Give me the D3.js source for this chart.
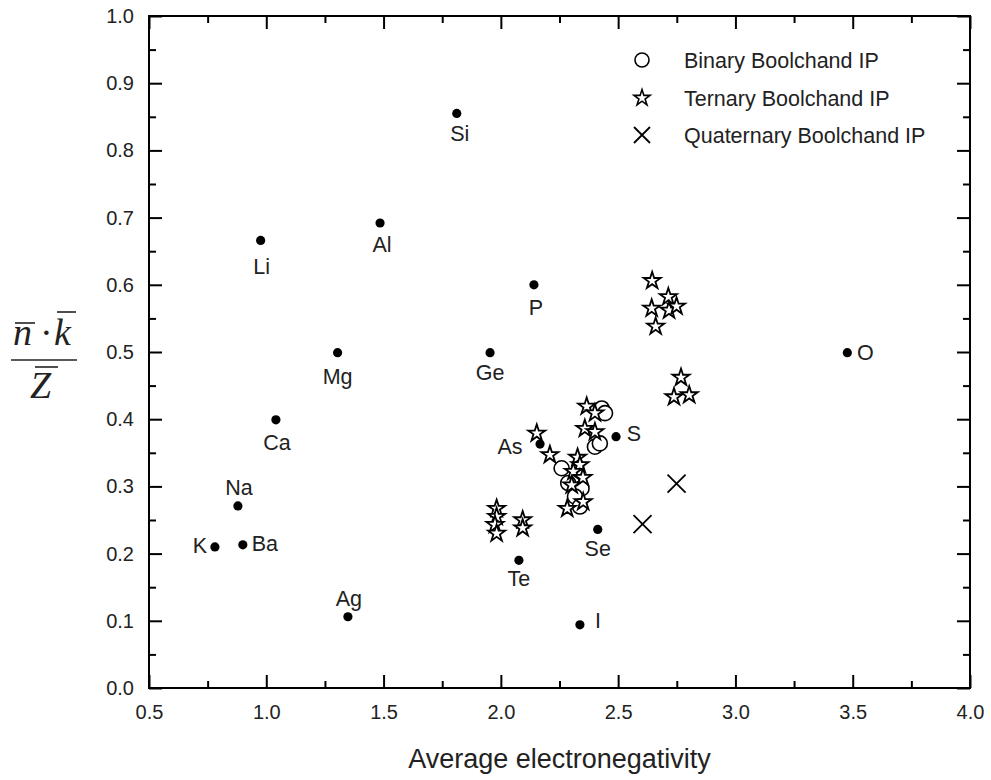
<!DOCTYPE html>
<html>
<head>
<meta charset="utf-8">
<script src="https://cdn.jsdelivr.net/npm/d3@7"></script>
<style>
  body { margin: 0; background: #fff; }
  svg { display: block; }
  text { font-family: "Liberation Sans", Arial, sans-serif; fill: #222; }
</style>
</head>
<body>
<svg></svg>
<script>
// tick labels
const X_TICKS = [0.5, 1.0, 1.5, 2.0, 2.5, 3.0, 3.5, 4.0];
const Y_TICKS = [0.0, 0.1, 0.2, 0.3, 0.4, 0.5, 0.6, 0.7, 0.8, 0.9, 1.0];

// single elements (filled dots)
const elementNames = ["Li", "Na", "K", "Ba", "Ca", "Mg", "Ag", "Al", "Si", "Ge", "P", "As", "Te", "I", "Se", "S", "O"];
const elementEN    = [0.976, 0.879, 0.781, 0.900, 1.041, 1.304, 1.348, 1.485, 1.812, 1.954, 2.141, 2.167, 2.077, 2.337, 2.413, 2.491, 3.477];
const elementRatio = [0.666, 0.271, 0.210, 0.213, 0.399, 0.499, 0.106, 0.692, 0.855, 0.499, 0.600, 0.363, 0.190, 0.094, 0.236, 0.374, 0.499];

// binary Boolchand IP (circles)
const binaryEN    = [2.430, 2.444, 2.401, 2.422, 2.259, 2.287, 2.344, 2.316, 2.337];
const binaryRatio = [0.416, 0.409, 0.359, 0.364, 0.327, 0.305, 0.297, 0.285, 0.270];

// ternary Boolchand IP (stars)
const ternaryEN    = [2.153, 2.209, 2.366, 2.401, 2.358, 2.401, 2.327, 2.337, 2.309, 2.350, 2.302, 2.351, 2.283,
                      1.982, 1.982, 1.975, 1.982, 2.093, 2.093,
                      2.645, 2.714, 2.643, 2.717, 2.749, 2.660, 2.768, 2.738, 2.803];
const ternaryRatio = [0.379, 0.347, 0.419, 0.409, 0.386, 0.381, 0.343, 0.332, 0.322, 0.313, 0.302, 0.277, 0.267,
                      0.267, 0.255, 0.243, 0.230, 0.250, 0.238,
                      0.606, 0.582, 0.565, 0.562, 0.568, 0.538, 0.462, 0.433, 0.436];

// quaternary Boolchand IP (crosses)
const quatEN    = [2.604, 2.749];
const quatRatio = [0.244, 0.304];

const LEGEND = ["Binary Boolchand IP", "Ternary Boolchand IP", "Quaternary Boolchand IP"];

// where each element label sits relative to its dot (px)
const LABEL_NUDGE = {
  Li: [1, 26], Na: [1, -19], K: [-15, -2], Ba: [22, -2], Ca: [1, 22], Mg: [0, 24],
  Ag: [1, -19], Al: [2, 21], Si: [3, 20], Ge: [0, 20], P: [2, 22], As: [-30, 2],
  Te: [0, 18], I: [18, -5], Se: [0, 19], S: [18, -3], O: [18, 0]
};

const WIDTH = 991, HEIGHT = 780;
const PLOT = {left: 149, right: 970, top: 16, bottom: 688};

const svg = d3.select('svg').attr('width', WIDTH).attr('height', HEIGHT);

const xScale = d3.scaleLinear().domain([0.5, 4.0]).range([PLOT.left, PLOT.right]);
const yScale = d3.scaleLinear().domain([0, 1]).range([PLOT.bottom, PLOT.top]);

const xMinor = d3.pairs(X_TICKS).map(p => (p[0] + p[1]) / 2);
const yMinor = d3.pairs(Y_TICKS).map(p => (p[0] + p[1]) / 2);

function styleAxis(g) {
  g.select('.domain').remove();
  g.selectAll('line').attr('stroke', '#000').attr('stroke-width', 2);
  g.selectAll('text').style('font-size', '20px').attr('fill', '#333');
}

//bottom axis
svg.append('g').attr('transform', `translate(0,${PLOT.bottom})`)
  .call(d3.axisBottom(xScale).tickValues(X_TICKS).tickFormat(d3.format('.1f')).tickSizeInner(-13).tickSizeOuter(0).tickPadding(17))
  .call(styleAxis);
svg.append('g').attr('transform', `translate(0,${PLOT.bottom})`)
  .call(d3.axisBottom(xScale).tickValues(xMinor).tickFormat('').tickSizeInner(-7).tickSizeOuter(0))
  .call(styleAxis);
//top axis
svg.append('g').attr('transform', `translate(0,${PLOT.top})`)
  .call(d3.axisTop(xScale).tickValues(X_TICKS).tickFormat('').tickSizeInner(-13).tickSizeOuter(0))
  .call(styleAxis);
svg.append('g').attr('transform', `translate(0,${PLOT.top})`)
  .call(d3.axisTop(xScale).tickValues(xMinor).tickFormat('').tickSizeInner(-7).tickSizeOuter(0))
  .call(styleAxis);
//left axis
svg.append('g').attr('transform', `translate(${PLOT.left},0)`)
  .call(d3.axisLeft(yScale).tickValues(Y_TICKS).tickFormat(d3.format('.1f')).tickSizeInner(-13).tickSizeOuter(0).tickPadding(15))
  .call(styleAxis);
svg.append('g').attr('transform', `translate(${PLOT.left},0)`)
  .call(d3.axisLeft(yScale).tickValues(yMinor).tickFormat('').tickSizeInner(-7).tickSizeOuter(0))
  .call(styleAxis);
//right axis
svg.append('g').attr('transform', `translate(${PLOT.right},0)`)
  .call(d3.axisRight(yScale).tickValues(Y_TICKS).tickFormat('').tickSizeInner(-13).tickSizeOuter(0))
  .call(styleAxis);
svg.append('g').attr('transform', `translate(${PLOT.right},0)`)
  .call(d3.axisRight(yScale).tickValues(yMinor).tickFormat('').tickSizeInner(-7).tickSizeOuter(0))
  .call(styleAxis);

//frame
svg.append('rect')
  .attr('x', PLOT.left).attr('y', PLOT.top)
  .attr('width', PLOT.right - PLOT.left).attr('height', PLOT.bottom - PLOT.top)
  .attr('fill', 'none').attr('stroke', '#000').attr('stroke-width', 2);

const chart = svg.append('g');

//element dots + labels
const elements = elementNames.map((n, i) => ({name: n, x: elementEN[i], y: elementRatio[i]}));
chart.selectAll('.dot')
  .data(elements)
  .enter()
  .append('circle')
  .attr('cx', d => xScale(d.x))
  .attr('cy', d => yScale(d.y))
  .attr('r', 4.6)
  .attr('fill', '#000');

chart.selectAll('.elabel')
  .data(elements)
  .enter()
  .append('text')
  .text(d => d.name)
  .attr('x', d => xScale(d.x) + LABEL_NUDGE[d.name][0])
  .attr('y', d => yScale(d.y) + LABEL_NUDGE[d.name][1])
  .attr('dy', '0.36em')
  .attr('text-anchor', 'middle')
  .style('font-size', '21.5px');

//binary circles
const binary = binaryEN.map((v, i) => ({x: v, y: binaryRatio[i]}));
chart.selectAll('.bin')
  .data(binary)
  .enter()
  .append('circle')
  .attr('cx', d => xScale(d.x))
  .attr('cy', d => yScale(d.y))
  .attr('r', 7.5)
  .attr('fill', '#fff')
  .attr('stroke', '#000')
  .attr('stroke-width', 1.6);

//ternary stars
const star = d3.symbol(d3.symbolStar, 90);
const ternary = ternaryEN.map((v, i) => ({x: v, y: ternaryRatio[i]}));
chart.selectAll('.ter')
  .data(ternary)
  .enter()
  .append('path')
  .attr('d', star)
  .attr('transform', d => `translate(${xScale(d.x)},${yScale(d.y)})`)
  .attr('fill', '#fff')
  .attr('stroke', '#000')
  .attr('stroke-width', 1.8)
  .attr('stroke-linejoin', 'miter');

//quaternary crosses
function cross(cx, cy, h) {
  return `M${cx - h},${cy - h}L${cx + h},${cy + h}M${cx - h},${cy + h}L${cx + h},${cy - h}`;
}
const quat = quatEN.map((v, i) => ({x: v, y: quatRatio[i]}));
chart.selectAll('.quat')
  .data(quat)
  .enter()
  .append('path')
  .attr('d', d => cross(xScale(d.x), yScale(d.y), 9))
  .attr('stroke', '#000')
  .attr('stroke-width', 1.8)
  .attr('fill', 'none');

//legend
const legend = svg.append('g');
const LEG_X = 642, LEG_Y = [60, 98, 135];
legend.append('circle').attr('cx', LEG_X).attr('cy', LEG_Y[0]).attr('r', 7)
  .attr('fill', '#fff').attr('stroke', '#000').attr('stroke-width', 1.6);
legend.append('path').attr('d', d3.symbol(d3.symbolStar, 80))
  .attr('transform', `translate(${LEG_X},${LEG_Y[1]})`)
  .attr('fill', '#fff').attr('stroke', '#000').attr('stroke-width', 1.6);
legend.append('path').attr('d', cross(LEG_X, LEG_Y[2], 8))
  .attr('stroke', '#000').attr('stroke-width', 1.8);
legend.selectAll('.ltext')
  .data(LEGEND)
  .enter()
  .append('text')
  .text(d => d)
  .attr('x', 684)
  .attr('y', (d, i) => LEG_Y[i])
  .attr('dy', '0.36em')
  .style('font-size', '21.5px');

//x title
svg.append('text')
  .text('Average electronegativity')
  .attr('x', (PLOT.left + PLOT.right) / 2)
  .attr('y', 768)
  .attr('text-anchor', 'middle')
  .style('font-size', '27px');

//y title: (n-bar . k-bar) / Z-bar
const yt = svg.append('g').style('font-family', '"Liberation Serif", "Times New Roman", serif')
  .style('font-style', 'italic');
yt.append('text').text('n').attr('x', 13).attr('y', 345).style('font-size', '38px')
  .style('font-family', '"Liberation Serif", serif').style('font-style', 'italic');
yt.append('text').text('·').attr('x', 40).attr('y', 345).style('font-size', '38px')
  .style('font-family', '"Liberation Serif", serif').style('font-style', 'normal');
yt.append('text').text('k').attr('x', 54).attr('y', 345).style('font-size', '38px')
  .style('font-family', '"Liberation Serif", serif').style('font-style', 'italic');
yt.append('text').text('Z').attr('x', 30).attr('y', 398).style('font-size', '38px')
  .style('font-family', '"Liberation Serif", serif').style('font-style', 'italic');
[[15, 35, 323], [57, 76, 312], [35, 58, 367]].forEach(b => {
  yt.append('line').attr('x1', b[0]).attr('x2', b[1]).attr('y1', b[2]).attr('y2', b[2])
    .attr('stroke', '#222').attr('stroke-width', 1.6);
});
yt.append('line').attr('x1', 11).attr('x2', 77).attr('y1', 360).attr('y2', 360)
  .attr('stroke', '#222').attr('stroke-width', 1.6);
</script>
</body>
</html>
